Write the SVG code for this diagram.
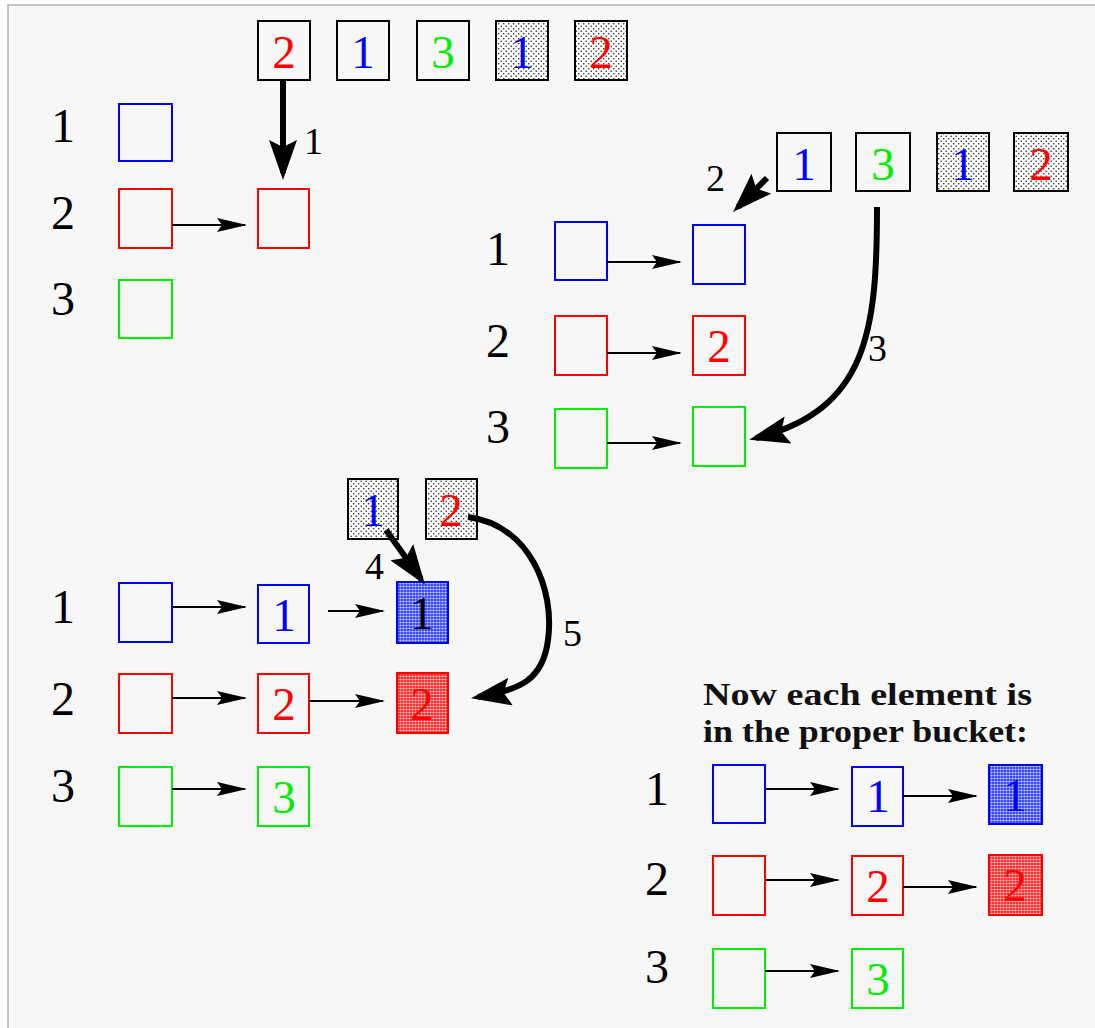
<svg xmlns="http://www.w3.org/2000/svg" width="1095" height="1028" viewBox="0 0 1095 1028">
<style>
.bg{fill:#f7f7f7;stroke:#c4c4c4;stroke-width:2}
.b{fill:none;stroke-width:2}
.k{stroke:#000}
.r{stroke:#ff0000}
.u{stroke:#0000ff}
.g{stroke:#00ee00}
.dot{fill:url(#dots);stroke:#000;stroke-width:2}
.dotB{fill:url(#dotsBlue);stroke:#0000ff;stroke-width:2}
.dotR{fill:url(#dotsRed);stroke:#ff0000;stroke-width:2}
.num{font-family:"Liberation Serif","Times New Roman",serif;font-size:47px;text-anchor:middle}
.lab{font-family:"Liberation Serif","Times New Roman",serif;font-size:48px;text-anchor:middle;fill:#000}
.step{font-family:"Liberation Serif","Times New Roman",serif;font-size:38px;fill:#000}
.note{font-family:"Liberation Serif","Times New Roman",serif;font-size:31px;font-weight:bold;fill:#111}
.tr{fill:#ff0000}.tu{fill:#0000ff}.tg{fill:#00ee00}.tk{fill:#000}
.thin{fill:none;stroke:#000;stroke-width:2;marker-end:url(#ah)}
.thick{fill:none;stroke:#000;stroke-width:6;marker-end:url(#AH)}
</style>
<defs>
<pattern id="dots" width="5" height="5" patternUnits="userSpaceOnUse">
<rect width="5" height="5" fill="#ffffff"/>
<circle cx="1.2" cy="1.2" r="0.8" fill="#222"/>
<circle cx="3.7" cy="3.7" r="0.8" fill="#222"/>
</pattern>
<pattern id="dotsBlue" width="3" height="3" patternUnits="userSpaceOnUse">
<rect width="3" height="3" fill="#2b3cff"/>
<circle cx="1.5" cy="1.5" r="1.1" fill="#d0d4ff"/>
</pattern>
<pattern id="dotsRed" width="3" height="3" patternUnits="userSpaceOnUse">
<rect width="3" height="3" fill="#ff2020"/>
<circle cx="1.5" cy="1.5" r="1.1" fill="#ffd0d0"/>
</pattern>
<marker id="ah" markerUnits="userSpaceOnUse" markerWidth="30" markerHeight="14" refX="28" refY="7" orient="auto">
<path d="M0,0 L30,7 L0,14 L5,7 z" fill="#000"/>
</marker>
<marker id="AH" markerUnits="userSpaceOnUse" markerWidth="40" markerHeight="28" refX="33" refY="14" orient="auto">
<path d="M0,0 L40,14 L0,28 L7,14 z" fill="#000"/>
</marker>
</defs>

<rect class="bg" x="8" y="5" width="1090" height="1026"/>

<!-- Stage 1 input sequence -->
<g id="seq1-a"><rect class="b k" x="258" y="21" width="52" height="59"/><text class="num tr" x="284" y="68">2</text></g>
<g id="seq1-b"><rect class="b k" x="337" y="21" width="52" height="59"/><text class="num tu" x="363" y="68">1</text></g>
<g id="seq1-c"><rect class="b k" x="417" y="21" width="52" height="59"/><text class="num tg" x="443" y="68">3</text></g>
<g id="seq1-d"><rect class="dot" x="496" y="21" width="52" height="59"/><text class="num tu" x="522" y="68">1</text></g>
<g id="seq1-e"><rect class="dot" x="575" y="21" width="52" height="59"/><text class="num tr" x="601" y="68">2</text></g>

<!-- Stage 1 buckets -->
<g id="s1-l1"><text class="lab" x="63" y="142">1</text></g>
<g id="s1-l2"><text class="lab" x="63" y="229">2</text></g>
<g id="s1-l3"><text class="lab" x="63" y="315">3</text></g>
<g id="s1-h1"><rect class="b u" x="119" y="104" width="53" height="57"/></g>
<g id="s1-h2"><rect class="b r" x="119" y="189" width="53" height="59"/></g>
<g id="s1-h3"><rect class="b g" x="119" y="280" width="53" height="58"/></g>
<g id="s1-e2"><rect class="b r" x="258" y="189" width="51" height="59"/></g>

<!-- Stage 2 input sequence -->
<g id="seq2-a"><rect class="b k" x="777" y="133" width="54" height="58"/><text class="num tu" x="804" y="180">1</text></g>
<g id="seq2-b"><rect class="b k" x="856" y="133" width="54" height="58"/><text class="num tg" x="883" y="180">3</text></g>
<g id="seq2-c"><rect class="dot" x="937" y="133" width="52" height="58"/><text class="num tu" x="963" y="180">1</text></g>
<g id="seq2-d"><rect class="dot" x="1014" y="133" width="54" height="58"/><text class="num tr" x="1041" y="180">2</text></g>

<!-- Stage 2 buckets -->
<g id="s2-l1"><text class="lab" x="498" y="265">1</text></g>
<g id="s2-l2"><text class="lab" x="498" y="357">2</text></g>
<g id="s2-l3"><text class="lab" x="498" y="443">3</text></g>
<g id="s2-h1"><rect class="b u" x="555" y="222" width="52" height="58"/></g>
<g id="s2-h2"><rect class="b r" x="555" y="316" width="52" height="59"/></g>
<g id="s2-h3"><rect class="b g" x="555" y="409" width="52" height="59"/></g>
<g id="s2-e1"><rect class="b u" x="693" y="225" width="52" height="59"/></g>
<g id="s2-e2"><rect class="b r" x="693" y="316" width="52" height="59"/><text class="num tr" x="719" y="362">2</text></g>
<g id="s2-e3"><rect class="b g" x="693" y="407" width="52" height="59"/></g>

<!-- Stage 3 input sequence -->
<g id="seq3-a"><rect class="dot" x="348" y="479" width="50" height="60"/><text class="num tu" x="373" y="526">1</text></g>
<g id="seq3-b"><rect class="dot" x="426" y="479" width="51" height="60"/><text class="num tr" x="451" y="526">2</text></g>

<!-- Stage 3 buckets -->
<g id="s3-l1"><text class="lab" x="63" y="623">1</text></g>
<g id="s3-l2"><text class="lab" x="63" y="715">2</text></g>
<g id="s3-l3"><text class="lab" x="63" y="802">3</text></g>
<g id="s3-h1"><rect class="b u" x="119" y="583" width="53" height="59"/></g>
<g id="s3-h2"><rect class="b r" x="119" y="674" width="53" height="59"/></g>
<g id="s3-h3"><rect class="b g" x="119" y="767" width="53" height="59"/></g>
<g id="s3-e1"><rect class="b u" x="258" y="585" width="51" height="58"/><text class="num tu" x="284" y="631">1</text></g>
<g id="s3-e2"><rect class="b r" x="258" y="674" width="51" height="59"/><text class="num tr" x="284" y="720">2</text></g>
<g id="s3-e3"><rect class="b g" x="258" y="767" width="51" height="59"/><text class="num tg" x="284" y="813">3</text></g>
<g id="s3-f1"><rect class="dotB" x="397" y="582" width="51" height="61"/><text class="num tk" x="422" y="629">1</text></g>
<g id="s3-f2"><rect class="dotR" x="397" y="673" width="51" height="60"/><text class="num tr" x="422" y="720">2</text></g>

<!-- Final state -->
<g id="note">
<text class="note" x="703" y="705" textLength="329" lengthAdjust="spacingAndGlyphs">Now each element is</text>
<text class="note" x="703" y="742" textLength="325" lengthAdjust="spacingAndGlyphs">in the proper bucket:</text>
</g>
<g id="f-l1"><text class="lab" x="657" y="805">1</text></g>
<g id="f-l2"><text class="lab" x="657" y="895">2</text></g>
<g id="f-l3"><text class="lab" x="657" y="983">3</text></g>
<g id="f-h1"><rect class="b u" x="713" y="765" width="52" height="58"/></g>
<g id="f-h2"><rect class="b r" x="713" y="856" width="52" height="59"/></g>
<g id="f-h3"><rect class="b g" x="713" y="949" width="52" height="59"/></g>
<g id="f-e1"><rect class="b u" x="852" y="767" width="51" height="59"/><text class="num tu" x="878" y="812">1</text></g>
<g id="f-e2"><rect class="b r" x="852" y="856" width="51" height="59"/><text class="num tr" x="878" y="902">2</text></g>
<g id="f-e3"><rect class="b g" x="852" y="949" width="51" height="59"/><text class="num tg" x="878" y="995">3</text></g>
<g id="f-f1"><rect class="dotB" x="989" y="765" width="53" height="59"/><text class="num tu" x="1015" y="811">1</text></g>
<g id="f-f2"><rect class="dotR" x="989" y="855" width="53" height="60"/><text class="num tr" x="1015" y="901">2</text></g>

<!-- Connectors -->
<g id="connectors">
<path class="thin" d="M172,225 L245,225"/>
<path class="thin" d="M607,262 L680,262"/>
<path class="thin" d="M607,353 L680,353"/>
<path class="thin" d="M607,443 L680,443"/>
<path class="thin" d="M172,607 L245,607"/>
<path class="thin" d="M328,611 L383,611"/>
<path class="thin" d="M172,698 L245,698"/>
<path class="thin" d="M309,701 L383,701"/>
<path class="thin" d="M172,789 L245,789"/>
<path class="thin" d="M765,789 L838,789"/>
<path class="thin" d="M903,796 L976,796"/>
<path class="thin" d="M765,880 L838,880"/>
<path class="thin" d="M903,887 L976,887"/>
<path class="thin" d="M765,971 L838,971"/>

<path class="thick" d="M283,80 L283,173"/>
<path class="thick" d="M767,178 L738,207"/>
<path class="thick" d="M877,207 C877,330 868,410 756,438"/>
<path class="thick" d="M386,530 L421,579"/>
<path class="thick" d="M468,517 C530,525 555,590 548,640 C543,680 520,690 478,697"/>

<text class="step" x="304" y="154">1</text>
<text class="step" x="706" y="191">2</text>
<text class="step" x="868" y="361">3</text>
<text class="step" x="365" y="579">4</text>
<text class="step" x="563" y="646">5</text>
</g>
</svg>
